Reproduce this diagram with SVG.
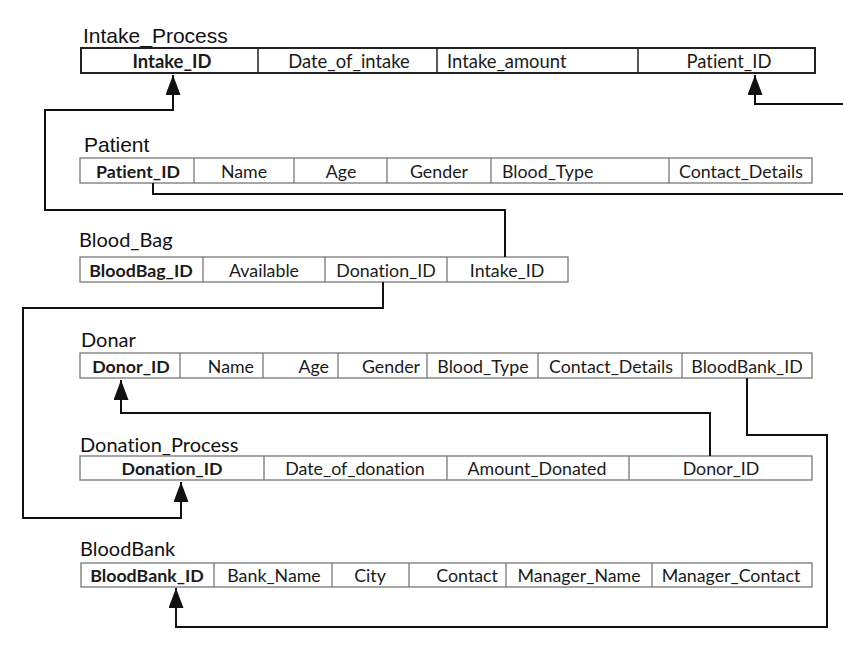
<svg xmlns="http://www.w3.org/2000/svg" width="843" height="667" viewBox="0 0 843 667">
<style>
.bg{fill:#ffffff}
.tb{fill:#ffffff;stroke:#777;stroke-width:1.3}
.tbk{fill:#ffffff;stroke:#222;stroke-width:2}
.dv{stroke:#777;stroke-width:1.3}
.dvk{stroke:#222;stroke-width:1.5}
.t1{font-family:"Liberation Sans",Arial,sans-serif;font-size:21px;fill:#111}
.t2{font-family:Lato,"Open Sans",sans-serif;font-size:20px;fill:#111;font-variant-ligatures:none}
.c{font-family:Lato,"Open Sans",sans-serif;font-size:17.8px;fill:#1a1a1a;font-variant-ligatures:none}
.ci{font-size:18.4px}
.b{font-weight:bold}
.m{text-anchor:middle}
.e{text-anchor:end}
.cn{fill:none;stroke:#111;stroke-width:2}
</style>
<defs>
<marker id="ah" viewBox="0 0 20 15" refX="20" refY="7.5" markerWidth="20" markerHeight="15" markerUnits="userSpaceOnUse" orient="auto">
<path d="M0,0 L20,7.5 L0,15 z" fill="#111"/>
</marker>
</defs>
<rect class="bg" x="0" y="0" width="843" height="667"/>

<g id="Intake_Process">
<text class="t1" x="83" y="43">Intake_Process</text>
<rect class="tbk" x="81" y="48" width="734" height="25"/>
<line class="dvk" x1="258" y1="48" x2="258" y2="73"/>
<line class="dvk" x1="437" y1="48" x2="437" y2="73"/>
<line class="dvk" x1="638" y1="48" x2="638" y2="73"/>
<text class="c ci b m" x="172" y="67.5">Intake_ID</text>
<text class="c ci m" x="349" y="67.5">Date_of_intake</text>
<text class="c ci" x="447" y="67.5">Intake_amount</text>
<text class="c ci m" x="729" y="67.5">Patient_ID</text>
</g>

<g id="Patient">
<text class="t1" x="84" y="152">Patient</text>
<rect class="tb" x="80" y="158" width="732" height="25"/>
<line class="dv" x1="194" y1="158" x2="194" y2="183"/>
<line class="dv" x1="294" y1="158" x2="294" y2="183"/>
<line class="dv" x1="387" y1="158" x2="387" y2="183"/>
<line class="dv" x1="491" y1="158" x2="491" y2="183"/>
<line class="dv" x1="669" y1="158" x2="669" y2="183"/>
<text class="c b m" x="138" y="177.5">Patient_ID</text>
<text class="c m" x="244" y="177.5">Name</text>
<text class="c m" x="341" y="177.5">Age</text>
<text class="c m" x="439" y="177.5">Gender</text>
<text class="c" x="502" y="177.5">Blood_Type</text>
<text class="c m" x="741" y="177.5">Contact_Details</text>
</g>

<g id="Blood_Bag">
<text class="t2" x="79" y="247">Blood_Bag</text>
<rect class="tb" x="80" y="257" width="488" height="25"/>
<line class="dv" x1="203" y1="257" x2="203" y2="282"/>
<line class="dv" x1="325" y1="257" x2="325" y2="282"/>
<line class="dv" x1="447" y1="257" x2="447" y2="282"/>
<text class="c b m" x="141" y="276.5">BloodBag_ID</text>
<text class="c m" x="264" y="276.5">Available</text>
<text class="c m" x="386" y="276.5">Donation_ID</text>
<text class="c m" x="507" y="276.5">Intake_ID</text>
</g>

<g id="Donar">
<text class="t2" x="81" y="347">Donar</text>
<rect class="tb" x="80" y="353" width="732" height="25"/>
<line class="dv" x1="180" y1="353" x2="180" y2="378"/>
<line class="dv" x1="263" y1="353" x2="263" y2="378"/>
<line class="dv" x1="338" y1="353" x2="338" y2="378"/>
<line class="dv" x1="427" y1="353" x2="427" y2="378"/>
<line class="dv" x1="538" y1="353" x2="538" y2="378"/>
<line class="dv" x1="682" y1="353" x2="682" y2="378"/>
<text class="c b m" x="131" y="372.5">Donor_ID</text>
<text class="c e" x="254" y="372.5">Name</text>
<text class="c e" x="329" y="372.5">Age</text>
<text class="c e" x="420" y="372.5">Gender</text>
<text class="c m" x="483" y="372.5">Blood_Type</text>
<text class="c m" x="611" y="372.5">Contact_Details</text>
<text class="c m" x="747" y="372.5">BloodBank_ID</text>
</g>

<g id="Donation_Process">
<text class="t2" x="80" y="452">Donation_Process</text>
<rect class="tb" x="80" y="456" width="732" height="24"/>
<line class="dv" x1="264" y1="456" x2="264" y2="480"/>
<line class="dv" x1="447" y1="456" x2="447" y2="480"/>
<line class="dv" x1="629" y1="456" x2="629" y2="480"/>
<text class="c b m" x="172" y="474.5">Donation_ID</text>
<text class="c m" x="355" y="474.5">Date_of_donation</text>
<text class="c m" x="537" y="474.5">Amount_Donated</text>
<text class="c m" x="721" y="474.5">Donor_ID</text>
</g>

<g id="BloodBank">
<text class="t2" x="80" y="556">BloodBank</text>
<rect class="tb" x="81" y="563" width="731" height="24"/>
<line class="dv" x1="214" y1="563" x2="214" y2="587"/>
<line class="dv" x1="332" y1="563" x2="332" y2="587"/>
<line class="dv" x1="409" y1="563" x2="409" y2="587"/>
<line class="dv" x1="506" y1="563" x2="506" y2="587"/>
<line class="dv" x1="652" y1="563" x2="652" y2="587"/>
<text class="c b m" x="147" y="581.5">BloodBank_ID</text>
<text class="c m" x="274" y="581.5">Bank_Name</text>
<text class="c m" x="370" y="581.5">City</text>
<text class="c e" x="498" y="581.5">Contact</text>
<text class="c m" x="579" y="581.5">Manager_Name</text>
<text class="c m" x="731" y="581.5">Manager_Contact</text>
</g>

<g id="connectors">
<path class="cn" d="M505,257 V210 H45 V110 H173 V75" marker-end="url(#ah)"/>
<path class="cn" d="M153,183 V194 H845"/>
<path class="cn" d="M845,104 H755 V75" marker-end="url(#ah)"/>
<path class="cn" d="M383,282 V308 H23 V518 H181 V482" marker-end="url(#ah)"/>
<path class="cn" d="M710,456 V413 H121 V380" marker-end="url(#ah)"/>
<path class="cn" d="M747,378 V435 H827 V627 H176 V588" marker-end="url(#ah)"/>
</g>
</svg>
